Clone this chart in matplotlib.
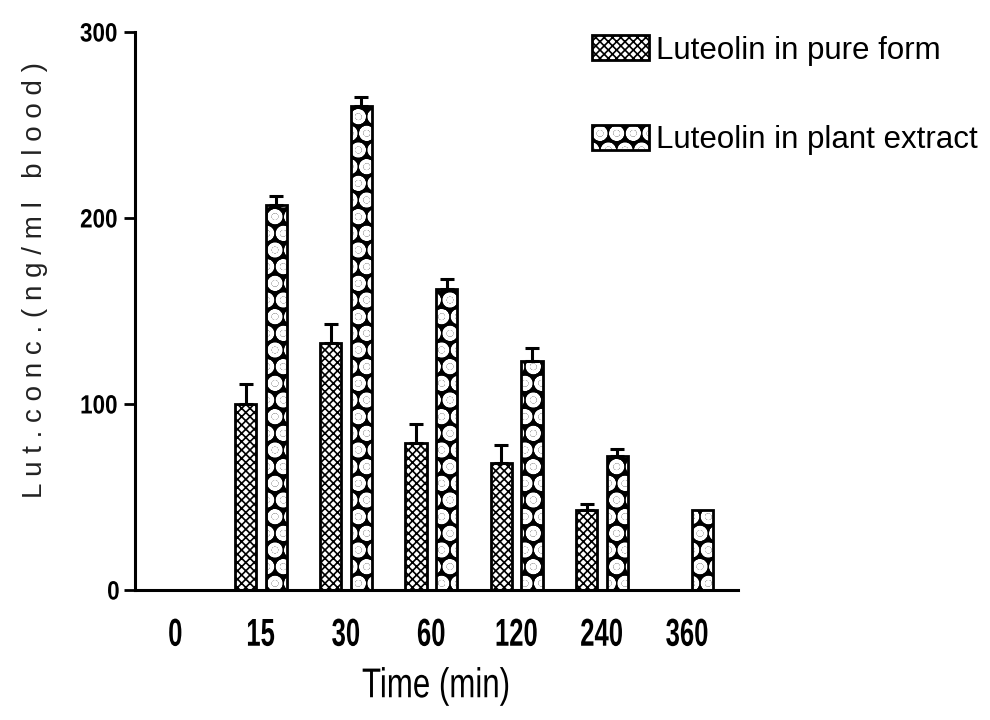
import matplotlib
matplotlib.use('Agg')
import matplotlib.pyplot as plt
from matplotlib.patheffects import AbstractPathEffect
from matplotlib.transforms import Affine2D
from matplotlib.legend_handler import HandlerTuple
import numpy as np

# blood levels after oral dosing
times = ['0', '15', '30', '60', '120', '240', '360']
pure = [0, 100, 133, 79, 68, 43, 0]
pure_err = [0, 11, 10, 10, 10, 3, 0]
plant = [0, 207, 260, 162, 123, 72, 43]
plant_err = [0, 5, 5, 5, 7, 4, 0]
labels = ['Luteolin in pure form', 'Luteolin in plant extract']

plt.rcParams['font.family'] = ['Liberation Sans', 'DejaVu Sans']

PURE_HLW = 1.2
PLANT_HLW = 2.4


class Condense(AbstractPathEffect):
    # squeeze glyphs horizontally about the centre of each text line
    def __init__(self, sx):
        super().__init__()
        self.sx = sx

    def draw_path(self, renderer, gc, tpath, affine, rgbFace=None):
        v = tpath.vertices
        cx = (v[:, 0].min() + v[:, 0].max()) / 2 if len(v) else 0
        t = Affine2D().translate(-cx, 0).scale(self.sx, 1).translate(cx, 0)
        renderer.draw_path(gc, tpath, t + affine, rgbFace)


def set_hlw(p, lw):
    if hasattr(p, 'set_hatch_linewidth'):
        p.set_hatch_linewidth(lw)
    else:
        p._hatch_linewidth = lw


fig = plt.figure(figsize=(9.9, 7.2), dpi=100)
ax = fig.add_axes([0.136, 0.1806, 0.609, 0.775])

x = np.arange(len(times))
w = 0.25
off = 0.18
pure = np.array(pure, float)
plant = np.array(plant, float)
pure_err = np.array(pure_err, float)
plant_err = np.array(plant_err, float)

mp = pure > 0
mq = plant > 0

# pure form: fine cross hatch on white
with plt.rc_context({'hatch.linewidth': PURE_HLW}):
    b1 = ax.bar(x[mp] - off, pure[mp], w, facecolor='white', edgecolor='black',
                hatch='xxxx', linewidth=2, zorder=2)
# plant extract: white discs on black, outline drawn on top
with plt.rc_context({'hatch.linewidth': PLANT_HLW}):
    b2 = ax.bar(x[mq] + off, plant[mq], w, facecolor='black', edgecolor='white',
                hatch='O.', linewidth=0, zorder=2)
b2o = ax.bar(x[mq] + off, plant[mq], w, facecolor='none', edgecolor='black',
             linewidth=2, zorder=3)

for xs, ys, es in [(x - off, pure, pure_err), (x + off, plant, plant_err)]:
    m = es > 0
    ax.errorbar(xs[m], ys[m], yerr=[np.zeros(m.sum()), es[m]], fmt='none',
                ecolor='black', elinewidth=2.2, capsize=5, capthick=2.2, zorder=4)

ax.set_xlim(-0.48, 6.59)
ax.set_ylim(0, 300)
ax.set_yticks([0, 100, 200, 300])
ax.set_xticks(x)
ax.set_xticklabels(times, fontsize=28, fontweight='bold')
for t in ax.get_xticklabels():
    t.set_path_effects([Condense(0.66)])
for t in ax.get_yticklabels():
    t.set_fontsize(19)
    t.set_fontweight('bold')
    t.set_path_effects([Condense(0.85)])
ax.tick_params(axis='x', length=0, pad=20)
ax.tick_params(axis='y', length=8, width=2, pad=2, direction='out')
for s in ['top', 'right']:
    ax.spines[s].set_visible(False)
for s in ['left', 'bottom']:
    ax.spines[s].set_linewidth(2.2)
xl = ax.set_xlabel('Time (min)', fontsize=30, labelpad=9)
xl.set_path_effects([Condense(0.75)])

fig.text(0.035, 0.611, ' '.join('Lut.conc.(ng/ml blood)'), rotation=90,
         ha='center', va='center', fontsize=20, color='#222222')

leg = ax.legend([b1[0], (b2[0], b2o[0])], labels, loc='upper left',
                bbox_to_anchor=(0.57, 0.99), bbox_transform=fig.transFigure,
                frameon=False, fontsize=22.5, handlelength=1.8, handleheight=0.85,
                handletextpad=0.25, labelspacing=1.9,
                handler_map={tuple: HandlerTuple(ndivide=1, pad=0)})
set_hlw(leg.legend_handles[0], PURE_HLW)
set_hlw(leg.legend_handles[1], PLANT_HLW)

fig.savefig('out.png', dpi=100)
